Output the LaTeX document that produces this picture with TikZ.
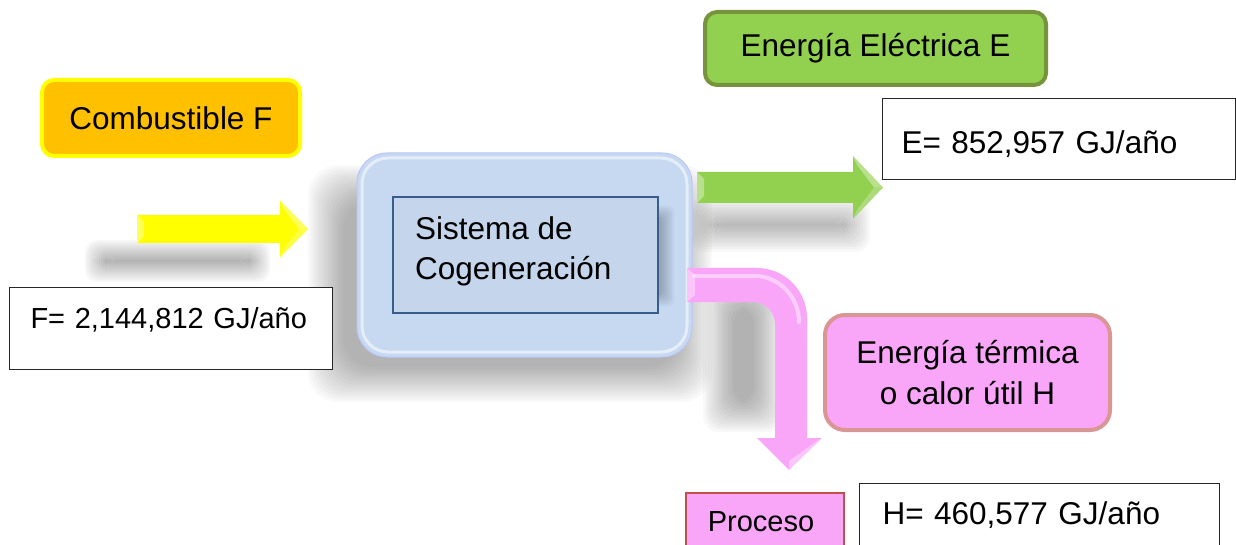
\documentclass[tikz,border=0pt]{standalone}
\usepackage{fontspec}
\setmainfont{Liberation Sans}
\usetikzlibrary{positioning}
\definecolor{naranja}{HTML}{FFC000}
\definecolor{amarillo}{HTML}{FFFF00}
\definecolor{azulcaja}{RGB}{198,217,241}
\definecolor{azulin}{RGB}{196,213,236}
\definecolor{azulborde}{HTML}{385D8A}
\definecolor{verde}{HTML}{92D050}
\definecolor{verdeborde}{HTML}{77933C}
\definecolor{rosa}{RGB}{249,166,249}
\definecolor{rosaborde}{HTML}{D99694}
\definecolor{rojoborde}{HTML}{C0504D}
\newcommand\bigtxt{\fontsize{31.5}{40.5}\selectfont}
\newcommand\smalltxt{\fontsize{29}{36}\selectfont}
\newcommand\softshadow{}
\def\softshadow(#1,#2)(#3,#4)(#5:#6:#7:#8){% \softshadow(x1,y1)(x2,y2)(layers:step:corner radius:opacity)
\foreach \k in {0,...,#5}
  \fill[black, opacity=#8, rounded corners=#7] ({#1+\k*#6},{#2+\k*#6}) rectangle ({#3-\k*#6},{#4-\k*#6});
}
\newcommand\flecha{}
\def\flecha[#1](#2)(#3:#4:#5:#6){% \flecha[fill options](tail)(length:body half width:head half width:head length)
\begin{scope}[shift={(#2)}]
\fill[#1] (0,-#4) -- ({#3-#6},-#4) -- ({#3-#6},-#5) -- (#3,0) -- ({#3-#6},#5) -- ({#3-#6},#4) -- (0,#4) -- cycle;
\fill[white, opacity=0.35] (0,-#4) -- (7,{-#4+7}) -- (7,{#4-7}) -- (0,#4) -- cycle;
\fill[white, opacity=0.35] ({#3-#6},-#5) -- (#3,0) -- ({#3-9},0) -- ({#3-#6+4},{-#5+9}) -- cycle;
\fill[white, opacity=0.25] (#3,0) -- ({#3-#6},#5) -- ({#3-#6+4},{#5-9}) -- ({#3-9},0) -- cycle;
\end{scope}
}
\begin{document}
\begin{tikzpicture}[x=1pt, y=-1pt,
  caja/.style={rounded corners=12pt, line width=4pt, inner sep=0pt, font=\bigtxt},
  valor/.style={draw=black!85, line width=1pt, fill=white, anchor=north west,
    inner sep=0pt, align=left}]
\useasboundingbox (0,0) rectangle (1236,545);
%% shadows
\softshadow(85,240)(270,282)(10:2:12pt:0.03)
\softshadow(308,165)(712,402)(14:2.5:30pt:0.024)
\softshadow(690,198)(870,252)(10:2.5:14pt:0.028)
\softshadow(703,278)(784,432)(12:2.5:16pt:0.028)
%% cogeneration system
\node[fill=azulcaja, draw=azulcaja!80!blue!70, line width=1pt, rounded corners=30pt,
  minimum width=335pt, minimum height=204pt] (sist) at (524.5,255) {};
\draw[white, opacity=0.55, line width=3pt, rounded corners=26pt] (362,158) rectangle (687,352);
\softshadow(646,206)(674,306)(6:2:6pt:0.035)
\node[fill=azulin, draw=azulborde, line width=1.5pt, minimum width=265pt,
  minimum height=116pt] (sistin) at (525.5,255) {};
\node[anchor=north west, align=left, inner sep=0pt, font=\bigtxt] (sisttxt) at (415,216)
  {Sistema de\\Cogeneración};
%% fuel
\node[caja, fill=naranja, draw=amarillo, minimum width=258pt, minimum height=76pt]
  (comb) at (171,118) {Combustible F};
\flecha[amarillo](137,229)(171:14:28.5:28);
\node[valor, font=\smalltxt, text width=281pt, inner xsep=21pt, text height=41pt,
  text depth=41pt] (fval) at (9,287) {F= 2,144,812 GJ/año};
%% electricity
\flecha[verde](697,187.5)(186:15.5:31.5:30);
\node[caja, fill=verde, draw=verdeborde, minimum width=341pt, minimum height=73pt]
  (elec) at (875.5,48.5) {Energía Eléctrica E};
\node[valor, font=\bigtxt, text width=315pt, inner xsep=19pt, text height=55pt,
  text depth=26pt] (eval) at (882,98) {E= 852,957 GJ/año};
%% heat
\fill[rosa] (687,268) -- (757,268) .. controls (784.6,268) and (807,290.4) .. (807,318)
  -- (807,438) -- (822,438) -- (789,470) -- (757,438) -- (775,438) -- (775,324)
  .. controls (775,311.9) and (765.1,302) .. (753,302) -- (687,302) -- cycle;
\draw[white, opacity=0.45, line width=4pt, line cap=round] (694,276) -- (755,276)
  .. controls (778,276) and (799,296) .. (799,322);
\fill[white, opacity=0.35] (687,268) -- (695,275) -- (695,295) -- (687,302) -- cycle;
\fill[white, opacity=0.35] (822,438) -- (789,470) -- (789,461) -- (814,443) -- cycle;
\node[caja, fill=rosa, draw=rosaborde, rounded corners=20pt, align=center,
  minimum width=285pt, minimum height=115pt] (term) at (967.5,372.5)
  {Energía térmica\\o calor útil H};
\node[valor, draw=rojoborde, fill=rosa, line width=1.5pt, font=\smalltxt, text width=114pt,
  inner xsep=22pt, text height=39pt, text depth=39pt] (proc) at (685,492) {Proceso};
\node[valor, font=\bigtxt, text width=314pt, inner xsep=23pt, text height=41pt,
  text depth=41pt] (hval) at (859,483) {H= 460,577 GJ/año};
\end{tikzpicture}
\end{document}
